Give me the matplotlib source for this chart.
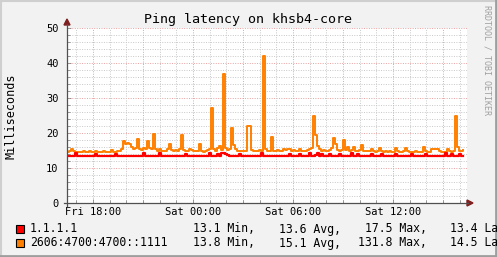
import matplotlib
matplotlib.use("Agg")
import matplotlib.pyplot as plt
import matplotlib.dates as mdates
from matplotlib.lines import Line2D
from matplotlib.patches import Polygon, Rectangle
import pandas as pd

# samples every 432 s (one per 2 px of the 400 px wide graph)
start = "2024-01-05 16:26:24"
step = "432s"

ping_v4 = [
    13.4, 13.4, 13.4, 13.4, 14.2, 13.4, 13.4, 13.4, 13.4, 13.4,
    13.4, 13.4, 13.4, 13.4, 14.0, 13.4, 13.4, 13.4, 13.4, 13.4,
    13.4, 13.4, 13.4, 13.4, 14.1, 13.4, 13.4, 13.4, 13.4, 13.4,
    13.4, 13.4, 13.4, 13.4, 13.4, 13.4, 13.4, 13.4, 14.2, 13.4,
    13.4, 13.4, 13.4, 13.4, 13.4, 13.4, 14.3, 13.4, 13.4, 13.4,
    13.4, 13.4, 13.4, 13.4, 13.4, 13.4, 13.4, 13.4, 13.4, 14.1,
    13.4, 13.4, 13.4, 13.4, 13.4, 13.4, 13.4, 13.4, 13.4, 13.4,
    13.4, 14.2, 13.5, 13.4, 13.4, 14.1, 13.4, 14.2, 14.4, 14.1,
    13.6, 13.4, 13.4, 13.4, 13.4, 13.4, 14.0, 13.4, 13.4, 13.4,
    13.4, 13.4, 13.4, 13.4, 13.4, 13.4, 13.4, 14.2, 13.4, 13.4,
    13.4, 13.4, 13.4, 13.4, 13.4, 13.4, 13.4, 13.4, 13.4, 13.4,
    13.4, 14.1, 13.4, 13.4, 13.4, 13.4, 14.0, 13.4, 13.4, 13.4,
    13.4, 14.2, 13.4, 13.4, 13.6, 14.4, 13.4, 14.1, 13.4, 13.4,
    13.4, 14.0, 13.4, 13.4, 13.4, 13.4, 14.1, 13.4, 13.4, 13.4,
    13.4, 13.4, 14.2, 13.4, 13.4, 14.0, 13.4, 13.4, 13.4, 13.4,
    13.4, 13.4, 14.1, 13.4, 13.4, 13.4, 13.4, 14.0, 13.4, 13.4,
    13.4, 13.4, 13.4, 13.4, 14.1, 13.4, 13.4, 13.4, 13.4, 13.4,
    13.4, 13.4, 14.0, 13.4, 13.4, 13.4, 13.4, 13.4, 13.4, 14.1,
    13.4, 13.4, 13.4, 13.4, 13.4, 13.4, 13.4, 13.4, 13.4, 14.2,
    13.4, 13.4, 14.0, 13.4, 13.4, 13.4, 14.1, 13.4, 13.4,
]

ping_v6 = [
    14.6, 14.8, 15.3, 14.8, 14.6, 14.6, 14.7, 14.6, 14.9, 14.6,
    14.6, 14.8, 14.6, 14.6, 15.0, 14.7, 14.6, 14.6, 14.9, 14.6,
    14.7, 14.6, 15.1, 14.7, 14.6, 14.8, 14.9, 15.4, 17.8, 17.0,
    17.2, 16.8, 15.9, 15.4, 15.6, 18.3, 15.5, 15.2, 15.6, 15.5,
    17.6, 15.8, 15.3, 19.7, 15.4, 15.0, 15.3, 14.8, 15.0, 14.8,
    15.3, 16.9, 15.2, 14.9, 15.1, 14.8, 15.4, 19.4, 15.2, 14.9,
    15.0, 15.4, 15.1, 14.8, 15.0, 14.8, 17.0, 15.0, 14.7, 15.0,
    15.2, 15.5, 27.2, 15.4, 15.0, 15.6, 16.2, 15.2, 37.0, 15.8,
    15.2, 15.4, 21.5, 16.5, 15.4, 15.0, 14.8, 15.0, 14.8, 15.0,
    22.0, 22.0, 15.2, 14.8, 15.0, 14.8, 15.1, 15.0, 42.0, 15.4,
    15.0, 14.8, 18.9, 15.0, 14.8, 15.2, 14.9, 15.0, 15.5, 15.2,
    15.4, 15.5, 15.0, 15.2, 14.8, 15.0, 15.3, 15.0, 14.8, 15.0,
    15.2, 15.4, 15.8, 25.0, 19.3, 16.2, 15.4, 15.0, 15.2, 14.9,
    15.0, 15.2, 15.6, 18.6, 17.0, 15.2, 15.0, 15.2, 18.0, 15.1,
    16.0, 15.0, 15.2, 16.0, 15.0, 14.9, 15.2, 16.6, 15.0, 14.8,
    15.0, 14.8, 15.5, 14.8, 14.6, 14.8, 15.7, 14.8, 14.6, 14.9,
    14.6, 14.8, 14.6, 14.7, 15.6, 14.8, 14.6, 14.6, 14.8, 15.7,
    14.8, 14.6, 14.7, 14.6, 14.8, 14.6, 14.6, 14.7, 15.9, 14.8,
    14.6, 14.7, 15.3, 15.3, 15.4, 15.3, 14.8, 14.6, 14.7, 14.6,
    15.5, 14.8, 14.6, 15.0, 25.0, 16.0, 15.0, 14.8, 15.2,
]

names = ["1.1.1.1", "2606:4700:4700::1111"]
colors = ["#ff0000", "#ff8000"]
mins = ["13.1", "13.8"]
avgs = ["13.6", "15.1"]
maxs = ["17.5", "131.8"]
lasts = ["13.4", "14.5"]

W, H = 497, 257
mono = "DejaVu Sans Mono"


def fx(x):
    return x / W


def fy(y):
    return 1 - y / H


t = pd.date_range(start, periods=len(ping_v4), freq=step)
t0 = pd.Timestamp(start)
t1 = t0 + pd.Timedelta(hours=24)

fig = plt.figure(figsize=(W / 100, H / 100), dpi=100, facecolor="#f2f2f2")
ax = fig.add_axes([fx(67), fy(203), 400 / W, 175 / H], facecolor="white")

# grid: gray minor, red major
grid_minor = dict(color="#c8c8c8", lw=0.7, ls=(0, (1, 1.5)), zorder=0)
grid_major = dict(color="#e9a0a0", lw=0.7, ls=(0, (1, 1.5)), zorder=0)
for v in range(2, 51, 2):
    ax.axhline(v, **(grid_major if v % 10 == 0 else grid_minor))
for h in pd.date_range(t0.ceil("h"), t1, freq="h"):
    ax.axvline(h, **(grid_major if h.hour % 3 == 0 else grid_minor))

ax.step(t, ping_v6, where="post", color=colors[1], lw=1.4, zorder=3)
ax.step(t, ping_v4, where="post", color=colors[0], lw=1.6, zorder=4)

ax.set_xlim(t0, t1)
ax.set_ylim(0, 50)
for s in ax.spines.values():
    s.set_visible(False)

ax.xaxis.set_major_locator(mdates.HourLocator(byhour=[0, 6, 12, 18]))
ax.xaxis.set_major_formatter(mdates.DateFormatter("%a %H:%M"))
ax.xaxis.set_minor_locator(mdates.HourLocator())
ax.yaxis.set_major_locator(plt.MultipleLocator(10))
ax.yaxis.set_minor_locator(plt.MultipleLocator(2))
ax.tick_params(which="both", direction="in", color="#888888", width=0.6)
ax.tick_params(which="major", length=3)
ax.tick_params(which="minor", length=2)
ax.tick_params(axis="x", pad=3)
ax.tick_params(axis="y", pad=6)
for lab in ax.get_xticklabels() + ax.get_yticklabels():
    lab.set_fontfamily(mono)
    lab.set_fontsize(7.5)

# axis lines and arrows
fig.add_artist(Line2D([fx(67), fx(67)], [fy(206), fy(24)], color="#505050", lw=0.9))
fig.add_artist(Line2D([fx(64), fx(468)], [fy(203), fy(203)], color="#505050", lw=0.9))
fig.add_artist(Polygon([[fx(64), fy(25)], [fx(70), fy(25)], [fx(67), fy(19)]],
                       closed=True, color="#7f1f1f"))
fig.add_artist(Polygon([[fx(467), fy(200)], [fx(467), fy(206)], [fx(473), fy(203)]],
                       closed=True, color="#7f1f1f"))

# frame shading
fig.add_artist(Line2D([0, 1], [fy(0.5), fy(0.5)], color="#cfcfcf", lw=1.5))
fig.add_artist(Line2D([fx(0.5), fx(0.5)], [0, 1], color="#cfcfcf", lw=1.5))
fig.add_artist(Line2D([0, 1], [fy(256), fy(256)], color="#9e9e9e", lw=2))
fig.add_artist(Line2D([fx(496), fx(496)], [0, 1], color="#9e9e9e", lw=2))

fig.text(fx(248), fy(19), "Ping latency on khsb4-core", family=mono,
         fontsize=9.6, ha="center", va="center")
fig.text(fx(11), fy(116), "Milliseconds", family=mono, fontsize=8.5,
         rotation=90, ha="center", va="center")
fig.text(fx(487), fy(60), "RRDTOOL / TOBI OETIKER", family=mono, fontsize=6,
         rotation=270, ha="center", va="center", color="#a0a0a0")

# legend
rows = [229, 243]
for i in range(2):
    y = rows[i]
    fig.add_artist(Rectangle((fx(16), fy(y + 4)), 8 / W, 8 / H,
                             facecolor=colors[i], edgecolor="black", lw=0.8))
    fig.text(fx(30), fy(y), names[i], family=mono, fontsize=8.3, va="center")
    fig.text(fx(193), fy(y), mins[i] + " Min,", family=mono, fontsize=8.3, va="center")
    fig.text(fx(279), fy(y), avgs[i] + " Avg,", family=mono, fontsize=8.3, va="center")
    fig.text(fx(365 - 7 * (len(maxs[i]) - 4)), fy(y), maxs[i] + " Max,",
             family=mono, fontsize=8.3, va="center")
    fig.text(fx(450), fy(y), lasts[i] + " Last", family=mono, fontsize=8.3, va="center")

fig.savefig("out.png", dpi=100, facecolor=fig.get_facecolor())
